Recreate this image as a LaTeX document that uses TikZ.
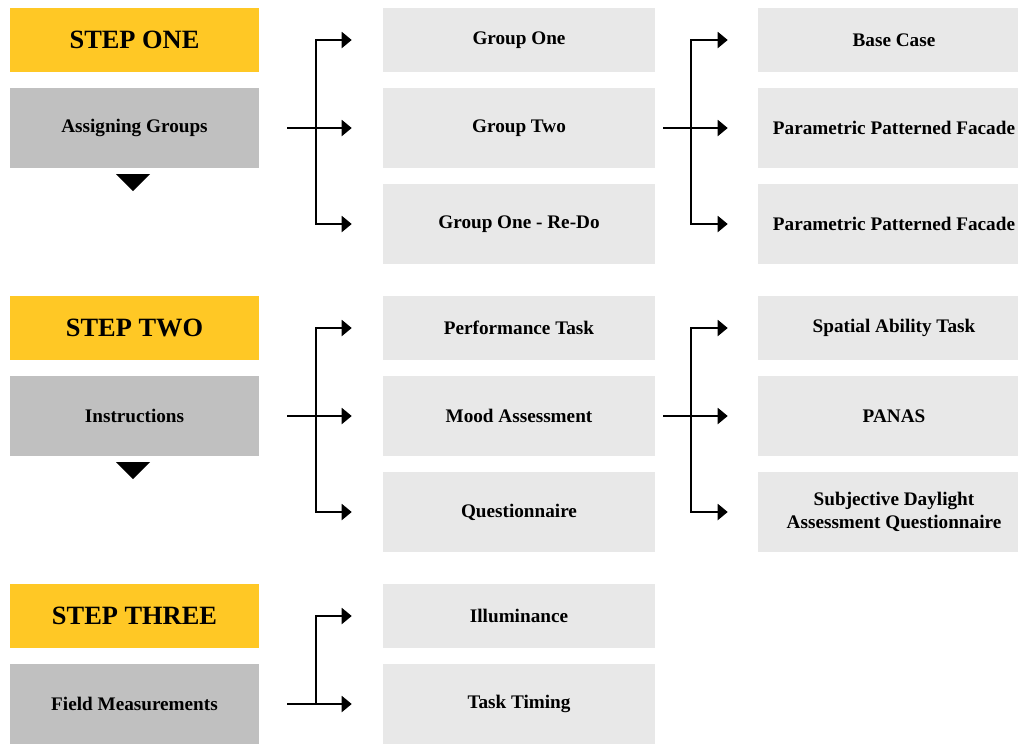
\documentclass[tikz,border=0pt]{standalone}
\usepackage{fontspec}
\setmainfont{Liberation Serif}
\usetikzlibrary{arrows.meta}

\definecolor{stepyellow}{HTML}{FFC825}
\definecolor{phasegray}{HTML}{C0C0C0}
\definecolor{itemgray}{HTML}{E8E8E8}
\newcommand{\px}{0.75pt}

\begin{document}
\begin{tikzpicture}[
    x=0.75pt, y=-0.75pt,
    every node/.style={font=\fontsize{14.4}{17}\selectfont\bfseries, inner sep=0pt},
    stepbox/.style={fill=stepyellow, minimum width=249*\px, minimum height=64*\px,
        font=\fontsize{19.8}{22}\selectfont\bfseries},
    phasebox/.style={fill=phasegray, minimum width=249*\px, minimum height=80*\px},
    itembox/.style={fill=itemgray, minimum width=272*\px, minimum height=80*\px, align=center},
    itemshort/.style={itembox, minimum height=64*\px},
    flow/.style={line width=1.5pt, -{Triangle[length=7.5pt, width=12pt]}},
    bus/.style={line width=1.5pt}
]

% --- Bildgrenzen (Pixel 1018 x 743) ---
\useasboundingbox (0,0) rectangle (1018,743);
\clip (0,0) rectangle (1018,743);

% --- Schritt 1 ---
\node[stepbox]  (s1)   at (134.5,40)  {STEP ONE};
\node[phasebox] (p1)   at (134.5,128) {Assigning Groups};
\fill (116,174) -- (150,174) -- (133,191) -- cycle;

\node[itemshort] (g1) at (519,40)  {Group One};
\node[itembox]   (g2) at (519,128) {Group Two};
\node[itembox]   (g3) at (519,224) {Group One - Re-Do};

\node[itemshort] (f1) at (894,40)  {Base Case};
\node[itembox]   (f2) at (894,128) {Parametric Patterned Facade};
\node[itembox]   (f3) at (894,224) {Parametric Patterned Facade};

% --- Schritt 2 ---
\node[stepbox]  (s2)   at (134.5,328) {STEP TWO};
\node[phasebox] (p2)   at (134.5,416) {Instructions};
\fill (116,462) -- (150,462) -- (133,479) -- cycle;

\node[itemshort] (t1) at (519,328) {Performance Task};
\node[itembox]   (t2) at (519,416) {Mood Assessment};
\node[itembox]   (t3) at (519,512) {Questionnaire};

\node[itemshort] (q1) at (894,328) {Spatial Ability Task};
\node[itembox]   (q2) at (894,416) {PANAS};
\node[itembox]   (q3) at (894,512) {Subjective Daylight\\Assessment Questionnaire};

% --- Schritt 3 ---
\node[stepbox]  (s3)   at (134.5,616) {STEP THREE};
\node[phasebox] (p3)   at (134.5,704) {Field Measurements};

\node[itemshort] (m1) at (519,616) {Illuminance};
\node[itembox]   (m2) at (519,704) {Task Timing};

% --- Verzweigungen: Startpunkte und Knotenpunkte ---
\coordinate (a1) at (287,128); \coordinate (j1) at (316,128);
\coordinate (b1) at (663,128); \coordinate (k1) at (691,128);
\coordinate (a2) at (287,416); \coordinate (j2) at (316,416);
\coordinate (b2) at (663,416); \coordinate (k2) at (691,416);
\coordinate (a3) at (287,704); \coordinate (j3) at (316,704);

% --- Pfeile Schritt 1 ---
\draw[flow, shorten >=23.25pt] (a1) -- (g2.west);
\draw[flow, shorten >=23.25pt] (j1) |- (g1.west);
\draw[flow, shorten >=23.25pt] (j1) |- (g3.west);
\draw[flow, shorten >=22.5pt]  (b1) -- (f2.west);
\draw[flow, shorten >=22.5pt]  (k1) |- (f1.west);
\draw[flow, shorten >=22.5pt]  (k1) |- (f3.west);

% --- Pfeile Schritt 2 ---
\draw[flow, shorten >=23.25pt] (a2) -- (t2.west);
\draw[flow, shorten >=23.25pt] (j2) |- (t1.west);
\draw[flow, shorten >=23.25pt] (j2) |- (t3.west);
\draw[flow, shorten >=22.5pt]  (b2) -- (q2.west);
\draw[flow, shorten >=22.5pt]  (k2) |- (q1.west);
\draw[flow, shorten >=22.5pt]  (k2) |- (q3.west);

% --- Pfeile Schritt 3 ---
\draw[flow, shorten >=23.25pt] (a3) -- (m2.west);
\draw[flow, shorten >=23.25pt] (j3) |- (m1.west);

\end{tikzpicture}
\end{document}
